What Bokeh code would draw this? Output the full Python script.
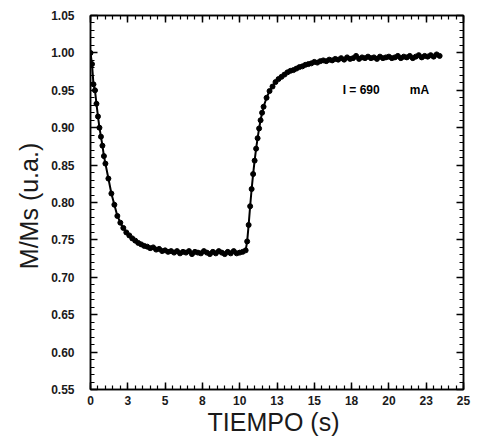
from bokeh.plotting import figure
from bokeh.models import SingleIntervalTicker, LinearAxis, Range1d, Label, NumeralTickFormatter
from bokeh.embed import file_html
from bokeh.resources import INLINE

# --- data ---
tiempo = [0.0, 0.1, 0.2, 0.3, 0.4, 0.5, 0.6, 0.7, 0.8, 0.9, 1.0, 1.2, 1.4, 1.6, 1.8,
          2.0, 2.2, 2.4, 2.6, 2.8, 3.0, 3.2, 3.4, 3.6, 3.8, 4.0, 4.2, 4.4, 4.6, 4.8,
          5.0, 5.2, 5.4, 5.6, 5.8, 6.0, 6.2, 6.4, 6.6, 6.8, 7.0, 7.2, 7.4, 7.6, 7.8,
          8.0, 8.2, 8.4, 8.6, 8.8, 9.0, 9.2, 9.4, 9.6, 9.8, 10.0, 10.2, 10.4,
          10.5, 10.6, 10.7, 10.8, 10.9, 11.0, 11.1, 11.2, 11.3, 11.4, 11.5, 11.6, 11.8,
          12.0, 12.2, 12.4, 12.6, 12.8, 13.0, 13.2, 13.4, 13.6, 13.8, 14.0, 14.2, 14.4,
          14.6, 14.8, 15.0, 15.2, 15.4, 15.6, 15.8, 16.0, 16.2, 16.4, 16.6, 16.8, 17.0,
          17.2, 17.4, 17.6, 17.8, 18.0, 18.2, 18.4, 18.6, 18.8, 19.0, 19.2, 19.4, 19.6,
          19.8, 20.0, 20.2, 20.4, 20.6, 20.8, 21.0, 21.2, 21.4, 21.6, 21.8, 22.0, 22.2,
          22.4, 22.6, 22.8, 23.0, 23.2, 23.4]
m_ms = [1.000, 0.985, 0.958, 0.950, 0.932, 0.915, 0.900, 0.888, 0.876, 0.862, 0.852, 0.832, 0.812, 0.797, 0.782,
        0.773, 0.766, 0.760, 0.756, 0.752, 0.749, 0.746, 0.744, 0.742, 0.741, 0.739, 0.740, 0.737, 0.738, 0.735,
        0.736, 0.734, 0.735, 0.733, 0.735, 0.732, 0.734, 0.733, 0.735, 0.731, 0.734, 0.733, 0.732, 0.735, 0.733,
        0.731, 0.734, 0.732, 0.735, 0.733, 0.731, 0.734, 0.732, 0.735, 0.732, 0.733, 0.734, 0.736,
        0.748, 0.770, 0.795, 0.818, 0.838, 0.856, 0.872, 0.886, 0.899, 0.910, 0.920, 0.928, 0.940,
        0.949, 0.955, 0.961, 0.965, 0.968, 0.971, 0.974, 0.976, 0.977, 0.979, 0.981, 0.982, 0.984,
        0.985, 0.986, 0.988, 0.987, 0.989, 0.990, 0.989, 0.991, 0.990, 0.992, 0.991, 0.993, 0.991,
        0.994, 0.992, 0.993, 0.996, 0.992, 0.994, 0.993, 0.995, 0.993, 0.994, 0.992, 0.995, 0.993,
        0.994, 0.995, 0.993, 0.994, 0.996, 0.993, 0.995, 0.994, 0.996, 0.993, 0.995, 0.997, 0.994,
        0.996, 0.995, 0.997, 0.995, 0.998, 0.996]

x_ticks = [0, 2.5, 5, 7.5, 10, 12.5, 15, 17.5, 20, 22.5, 25]
x_tick_labels = ["0", "3", "5", "8", "10", "13", "15", "18", "20", "23", "25"]
y_tick_interval = 0.05
annotation_value = "I = 690"
annotation_unit = "mA"
annotation_value_pos = (16.9, 0.951)
annotation_unit_pos = (21.4, 0.951)

FONT = "Liberation Sans"

p = figure(width=472, height=439, output_backend="svg", toolbar_location=None,
           x_range=Range1d(0, 25), y_range=Range1d(0.55, 1.05),
           min_border_left=90, min_border_right=9, min_border_top=15, min_border_bottom=50)
p.grid.visible = False
p.outline_line_color = "black"
p.outline_line_width = 1.5
p.background_fill_color = "white"
p.border_fill_color = "white"


def style(ax, interval, labels=True):
    ax.ticker = SingleIntervalTicker(interval=interval, num_minor_ticks=5)
    ax.axis_line_color = "black"
    ax.axis_line_width = 1.5
    ax.major_tick_in = 7
    ax.major_tick_out = 0
    ax.minor_tick_in = 4
    ax.minor_tick_out = 0
    ax.major_tick_line_color = "black"
    ax.minor_tick_line_color = "black"
    ax.major_tick_line_width = 1.5
    ax.minor_tick_line_width = 1.2
    if labels:
        ax.major_label_text_font = FONT
        ax.major_label_text_font_size = "12px"
        ax.major_label_text_font_style = "bold"
        ax.major_label_text_color = "#1a1a1a"
        ax.axis_label_text_font = FONT
        ax.axis_label_text_font_size = "25px"
        ax.axis_label_text_font_style = "normal"
        ax.axis_label_text_color = "#1a1a1a"
    else:
        ax.major_label_text_color = None
        ax.major_label_text_font_size = "1px"
        ax.major_label_standoff = 0


xa = p.xaxis[0]
style(xa, x_ticks[1] - x_ticks[0])
xa.major_label_overrides = {t: l for t, l in zip(x_ticks, x_tick_labels)}
xa.axis_label = "TIEMPO  (s)"
xa.major_label_standoff = 6
xa.axis_label_standoff = 0

ya = p.yaxis[0]
style(ya, y_tick_interval)
ya.formatter = NumeralTickFormatter(format="0.00")
ya.axis_label = "M/Ms  (u.a.)"
ya.major_label_standoff = 16
ya.axis_label_standoff = 5

top = LinearAxis()
style(top, x_ticks[1] - x_ticks[0], labels=False)
p.add_layout(top, "above")
right = LinearAxis()
style(right, y_tick_interval, labels=False)
p.add_layout(right, "right")

p.line(tiempo, m_ms, line_color="black", line_width=2)
p.scatter(tiempo, m_ms, size=5, marker="circle", fill_color="black", line_color="black")

for txt, (lx, ly) in [(annotation_value, annotation_value_pos), (annotation_unit, annotation_unit_pos)]:
    p.add_layout(Label(x=lx, y=ly, text=txt,
                       text_font=FONT, text_font_size="12px", text_font_style="bold",
                       text_baseline="middle", text_color="black"))

open("out.html", "w").write(file_html(p, INLINE))
